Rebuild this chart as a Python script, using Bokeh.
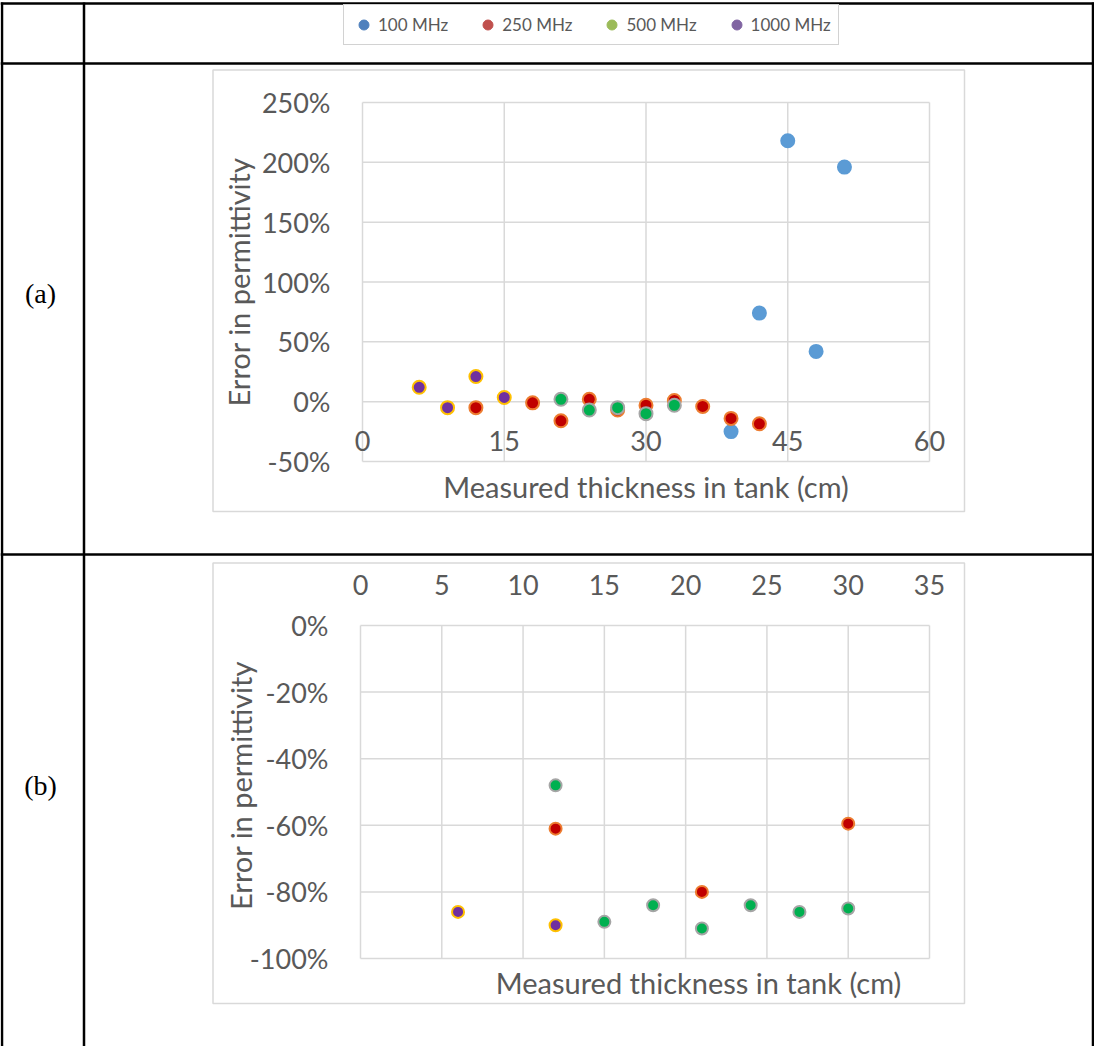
import math
from bokeh.plotting import figure
from bokeh.models import (Range1d, LinearAxis, FixedTicker, PrintfTickFormatter,
                          Legend, LegendItem, Label)
from bokeh.embed import file_html
from bokeh.resources import INLINE

# ---------------- data ----------------
series_labels = ["100 MHz", "250 MHz", "500 MHz", "1000 MHz"]
x_title = "Measured thickness in tank (cm)"
y_title = "Error in permittivity"

# chart (a)
a_100_x = [39, 42, 45, 48, 51]
a_100_y = [-25, 74, 218, 42, 196]
a_250_x = [12, 18, 21, 24, 27, 30, 33, 36, 39, 42]
a_250_y = [-5, -1, -16, 2, -7, -3, 1, -4, -14, -18.5]
a_500_x = [21, 24, 27, 30, 33]
a_500_y = [2, -7, -5, -10, -3]
a_1000_x = [6, 9, 12, 15]
a_1000_y = [12, -5, 21, 3.5]

# chart (b)
b_250_x = [12, 21, 30]
b_250_y = [-61, -80, -59.5]
b_500_x = [12, 15, 18, 21, 24, 27, 30]
b_500_y = [-48, -89, -84, -91, -84, -86, -85]
b_1000_x = [6, 12]
b_1000_y = [-86, -90]

a_xticks = [0, 15, 30, 45, 60]
a_yticks = [-50, 0, 50, 100, 150, 200, 250]
b_xticks = [0, 5, 10, 15, 20, 25, 30, 35]
b_yticks = [-100, -80, -60, -40, -20, 0]

# ---------------- styles ----------------
W, H = 1094, 1046
GRID = "#D9D9D9"
TXT = "#595959"
FONT = "Lato"
legend_colors = ["#4F81BD", "#C0504D", "#9BBB59", "#8064A2"]
marker_fill = ["#5B9BD5", "#C00000", "#00B050", "#7030A0"]
marker_line = ["#5B9BD5", "#ED7D31", "#A5A5A5", "#FFC000"]

p = figure(width=W, height=H, x_range=Range1d(0, W), y_range=Range1d(H, 0),
           output_backend="svg", toolbar_location=None, min_border=0,
           x_axis_type=None, y_axis_type=None)
p.outline_line_color = None
p.background_fill_color = "white"
p.border_fill_color = "white"


def frame_range(v0, v1, p0, p1, total):
    k = (p1 - p0) / (v1 - v0)
    start = v0 - p0 / k
    return Range1d(start, start + total / k)


p.extra_x_ranges = {"ax": frame_range(0, 60, 362, 929, W),
                    "bx": frame_range(0, 35, 360, 929, W)}
p.extra_y_ranges = {"ay": frame_range(-50, 250, H - 461, H - 102, H),
                    "by": frame_range(-100, 0, H - 958, H - 625, H)}

# table borders (page layout)
p.segment(x0=[0, 0, 0, 1.5, 83.5, 1092.5],
          y0=[3, 63, 554, 2, 2, 2],
          x1=[W, W, W, 1.5, 83.5, 1092.5],
          y1=[3, 63, 554, H, H, H],
          line_color="black", line_width=2.5)

# chart area frames
p.quad(left=[212.5, 212.5], right=[964, 964], top=[69.5, 562.5], bottom=[511, 1003],
       fill_color=None, line_color=GRID, line_width=1.5)

p.add_layout(Label(x=40, y=293, text="(a)", text_align="center", text_baseline="middle",
                   text_font="Liberation Serif", text_font_size="28px", text_color="black"))
p.add_layout(Label(x=40, y=785, text="(b)", text_align="center", text_baseline="middle",
                   text_font="Liberation Serif", text_font_size="28px", text_color="black"))


def grid(xt, yt, rx, ry):
    nx, ny = len(xt), len(yt)
    p.segment(x0=xt, x1=xt, y0=[min(yt)] * nx, y1=[max(yt)] * nx,
              x_range_name=rx, y_range_name=ry, line_color=GRID, line_width=1.5)
    p.segment(x0=[min(xt)] * ny, x1=[max(xt)] * ny, y0=yt, y1=yt,
              x_range_name=rx, y_range_name=ry, line_color=GRID, line_width=1.5)


grid(a_xticks, a_yticks, "ax", "ay")
grid(b_xticks, b_yticks, "bx", "by")


def style_axis(ax, standoff, label_standoff=10):
    ax.axis_line_color = None
    ax.major_tick_line_color = None
    ax.minor_tick_line_color = None
    ax.major_label_text_font = FONT
    ax.major_label_text_font_size = "27px"
    ax.major_label_text_color = TXT
    ax.major_label_standoff = standoff
    ax.axis_label_text_font = FONT
    ax.axis_label_text_font_size = "29px"
    ax.axis_label_text_color = TXT
    ax.axis_label_text_font_style = "normal"
    ax.axis_label_standoff = label_standoff


ya = LinearAxis(x_range_name="ax", y_range_name="ay", fixed_location=0, bounds=(-50, 250),
                ticker=FixedTicker(ticks=a_yticks),
                formatter=PrintfTickFormatter(format="%d%%"), axis_label=y_title)
style_axis(ya, 26, 3)
p.add_layout(ya, "left")

xa = LinearAxis(x_range_name="ax", y_range_name="ay", fixed_location=0, bounds=(0, 60),
                ticker=FixedTicker(ticks=a_xticks), axis_label=x_title)
style_axis(xa, 23, 15)
p.add_layout(xa, "below")

yb = LinearAxis(x_range_name="bx", y_range_name="by", fixed_location=0, bounds=(-100, 0),
                ticker=FixedTicker(ticks=b_yticks),
                formatter=PrintfTickFormatter(format="%d%%"))
style_axis(yb, 26)
p.add_layout(yb, "left")

xb = LinearAxis(x_range_name="bx", y_range_name="by", fixed_location=0, bounds=(0, 35),
                ticker=FixedTicker(ticks=b_xticks))
style_axis(xb, 25)
p.add_layout(xb, "above")

# chart (b) axis titles (placed as in the original, away from the axis lines)
p.add_layout(Label(x=698, y=982, text=x_title, text_align="center", text_baseline="middle",
                   text_font=FONT, text_font_size="29px", text_color=TXT))
p.add_layout(Label(x=240, y=785, text=y_title, angle=math.pi / 2, text_align="center",
                   text_baseline="middle", text_font=FONT, text_font_size="29px",
                   text_color=TXT))


def pts(xs, ys, i, rx, ry, size):
    p.scatter(x=xs, y=ys, x_range_name=rx, y_range_name=ry, size=size,
              fill_color=marker_fill[i], line_color=marker_line[i], line_width=2)


pts(a_100_x, a_100_y, 0, "ax", "ay", 13)
pts(a_250_x, a_250_y, 1, "ax", "ay", 13)
pts(a_500_x, a_500_y, 2, "ax", "ay", 13)
pts(a_1000_x, a_1000_y, 3, "ax", "ay", 13)
pts(b_250_x, b_250_y, 1, "bx", "by", 12)
pts(b_500_x, b_500_y, 2, "bx", "by", 12)
pts(b_1000_x, b_1000_y, 3, "bx", "by", 12)

# legend (top cell) - legend-only renderers with a single non-drawn point
items = []
for lab, c in zip(series_labels, legend_colors):
    r = p.scatter(x=[float("nan")], y=[float("nan")], size=10, fill_color=c, line_color=c)
    items.append(LegendItem(label=lab, renderers=[r]))
legend = Legend(items=items, orientation="horizontal", location=(343, H - 45),
                glyph_width=25, glyph_height=25, label_standoff=2, spacing=27,
                padding=7, margin=0, label_text_font=FONT, label_text_font_size="17px",
                label_text_color=TXT, label_text_baseline="middle",
                border_line_color="#A6A6A6", border_line_width=1,
                background_fill_color="white", background_fill_alpha=1.0)
p.add_layout(legend)

open("out.html", "w").write(file_html(p, INLINE))
